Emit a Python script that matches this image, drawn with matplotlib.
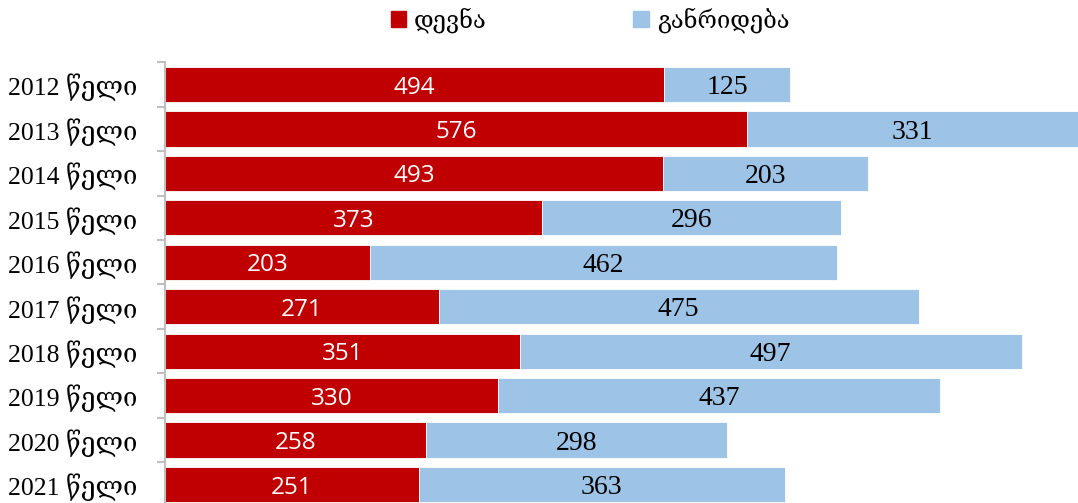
import matplotlib
matplotlib.use("Agg")
import matplotlib.pyplot as plt
import numpy as np
from matplotlib.patches import Patch

categories = ["2012 წელი", "2013 წელი", "2014 წელი", "2015 წელი", "2016 წელი",
              "2017 წელი", "2018 წელი", "2019 წელი", "2020 წელი", "2021 წელი"]
devna = [494, 576, 493, 373, 203, 271, 351, 330, 258, 251]
ganrideba = [125, 331, 203, 296, 462, 475, 497, 437, 298, 363]
series_names = ["დევნა", "განრიდება"]

RED = "#C00000"
BLUE = "#9DC3E6"
serif = ["Liberation Serif", "DejaVu Serif"]
sans_num = ["Open Sans", "DejaVu Sans"]

W, H = 1078, 503
fig = plt.figure(figsize=(W / 100, H / 100), dpi=100)
ax_left = 165 / W
top_px = 62.3
bot_px = 506.7
ax = fig.add_axes([ax_left, 1 - bot_px / H, 1 - ax_left, (bot_px - top_px) / H])

y = np.arange(len(categories))
h = 0.79
b1 = ax.barh(y, devna, height=h, color=RED, edgecolor="white", linewidth=0.6)
b2 = ax.barh(y, ganrideba, left=devna, height=h, color=BLUE, edgecolor="white", linewidth=0.6)

l1 = ax.bar_label(b1, labels=[str(v) for v in devna], label_type="center",
                  color="white", fontsize=17.5, family=sans_num)
l2 = ax.bar_label(b2, labels=[str(v) for v in ganrideba], label_type="center",
                  color="black", fontsize=20, family=serif, clip_on=False)
for t in list(l1) + list(l2):
    t.xyann = (0, -2.2)

ax.set_xlim(0, (W - 165) / 1.0101)
ax.set_ylim(len(categories) - 0.5, -0.5)
ax.set_yticks(y)
ax.set_yticklabels(categories, family=serif, fontsize=18.5)
ax.set_yticks(np.arange(-0.5, len(categories) + 0.5, 1), minor=True)
ax.tick_params(axis="y", which="major", length=0, pad=20)
ax.tick_params(axis="y", which="minor", length=6, width=1.5, color="#BFBFBF")
ax.set_xticks([])
for s in ["top", "right", "bottom"]:
    ax.spines[s].set_visible(False)
ax.spines["left"].set_color("#BFBFBF")
ax.spines["left"].set_linewidth(1.5)

handles = [Patch(color=RED), Patch(color=BLUE)]
fig.legend(handles, series_names, loc="center", bbox_to_anchor=(590 / W, 1 - 20 / H),
           ncol=2, frameon=False, handlelength=0.65, handleheight=0.65,
           handletextpad=0.35, columnspacing=6.2,
           prop={"family": serif, "size": 17})

fig.savefig("out.png", dpi=100)
